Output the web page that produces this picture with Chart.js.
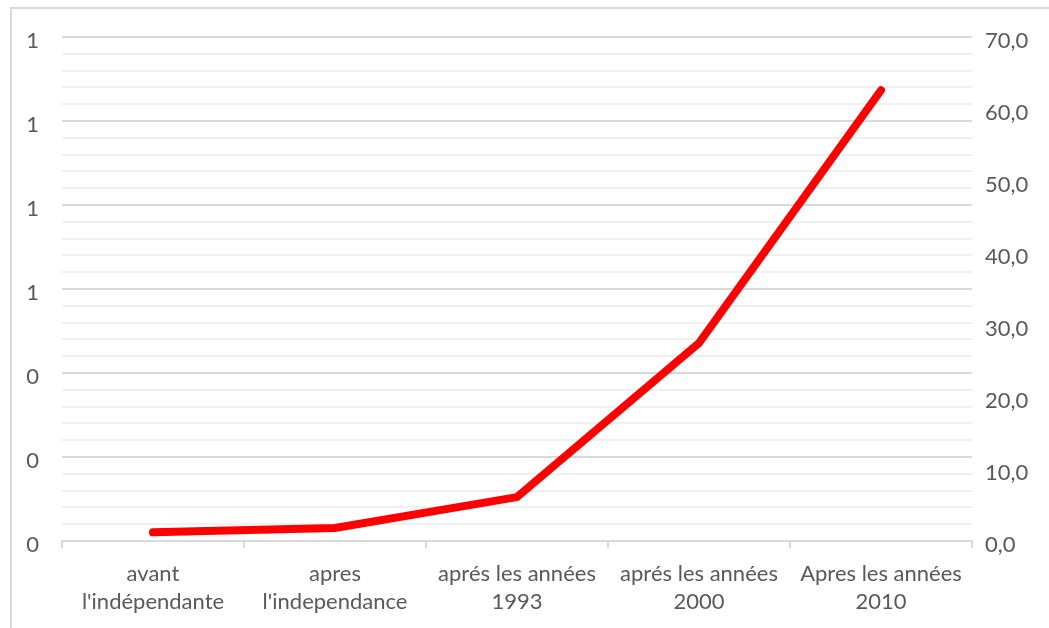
<!DOCTYPE html>
<html>
<head>
  <script src="https://cdn.jsdelivr.net/npm/chart.js@4.4.0/dist/chart.umd.min.js"></script>
  <style>
    body { margin: 0; padding: 0; overflow: hidden; background: #fff; }
    .frame {
      position: absolute; left: 10px; top: 7px; width: 1060px; height: 640px;
      border: 2px solid #d9d9d9; box-sizing: border-box;
    }
    .wrap { position: absolute; left: 0; top: 0; width: 1049px; height: 628px; }
  </style>
</head>
<body>
  <div class="frame"></div>
  <div class="wrap"><canvas id="chart"></canvas></div>
  <script>
    const categories = [
      ['avant', "l'indépendante"],
      ['apres', "l'independance"],
      ['aprés les années', '1993'],
      ['aprés les années', '2000'],
      ['Apres les années', '2010']
    ];
    const values = [1.2, 1.8, 6.1, 27.5, 62.6];
    const leftTicks = [0, 0.2, 0.4, 0.6, 0.8, 1.0, 1.2];
    const rightTicks = [0, 10, 20, 30, 40, 50, 60, 70];

    const textColor = '#595959';
    const font = { family: 'Lato, "Open Sans", sans-serif', size: 22 };

    new Chart(document.getElementById('chart'), {
      type: 'line',
      data: {
        labels: categories,
        datasets: [{
          data: values,
          yAxisID: 'y2',
          borderColor: '#ff0000',
          borderWidth: 8,
          borderCapStyle: 'round',
          borderJoinStyle: 'miter',
          pointRadius: 0,
          tension: 0
        }]
      },
      options: {
        responsive: true,
        maintainAspectRatio: false,
        animation: false,
        layout: { padding: { top: 37, left: 0, right: 0, bottom: 0 } },
        plugins: { legend: { display: false }, tooltip: { enabled: false } },
        scales: {
          x: {
            offset: true,
            grid: { drawOnChartArea: false, drawTicks: true, tickLength: 7, offset: true, color: '#d9d9d9', lineWidth: 2 },
            border: { display: true, color: '#d9d9d9', width: 2 },
            ticks: { color: textColor, font: { ...font, lineHeight: 1.27 }, padding: 12, maxRotation: 0, autoSkip: false },
            afterFit: s => { s.height = 87; }
          },
          y: {
            position: 'left',
            min: leftTicks[0],
            max: leftTicks[leftTicks.length - 1],
            afterBuildTicks: s => {
              const t = [];
              for (let i = 0; i <= 30; i++) t.push({ value: i * 0.04 });
              s.ticks = t;
            },
            grid: {
              drawTicks: false,
              color: c => (c.index % 5 === 0 ? '#d9d9d9' : '#f0f0f0'),
              lineWidth: 2
            },
            border: { display: false },
            ticks: {
              autoSkip: false,
              color: textColor,
              font: font,
              padding: 23,
              labelOffset: 4,
              callback: (v, i) => (i % 5 === 0 ? String(Math.round(leftTicks[i / 5])) : '')
            },
            afterFit: s => { s.width = 62; }
          },
          y2: {
            position: 'right',
            min: rightTicks[0],
            max: rightTicks[rightTicks.length - 1],
            afterBuildTicks: s => { s.ticks = rightTicks.map(v => ({ value: v })); },
            grid: { drawOnChartArea: false, drawTicks: false },
            border: { display: false },
            ticks: {
              color: textColor,
              font: font,
              padding: 13,
              labelOffset: 4,
              callback: v => v.toFixed(1).replace('.', ',')
            },
            afterFit: s => { s.width = 77; }
          }
        }
      }
    });
  </script>
</body>
</html>
